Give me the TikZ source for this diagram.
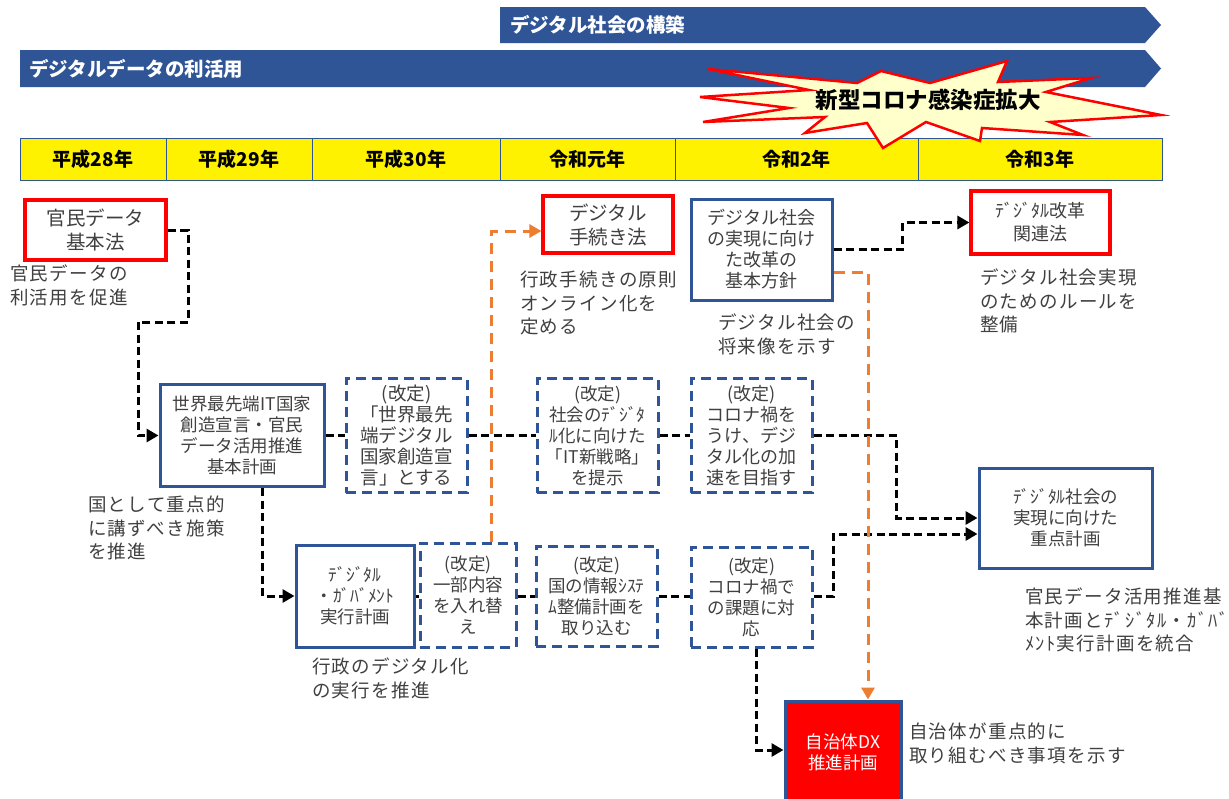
\documentclass[tikz,border=0pt]{standalone}
\usepackage{fontspec}
\setmainfont{Noto Sans CJK JP}
\usetikzlibrary{arrows.meta}
\definecolor{dblue}{HTML}{2F5597}
\definecolor{borange}{HTML}{ED7D31}
\definecolor{txtgray}{HTML}{404040}
\definecolor{starfill}{HTML}{FFFFCC}
\newcommand\bxfont{\fontsize{17.5}{21}\selectfont}
\newcommand\rbfont{\fontsize{19.5}{24}\selectfont}
\newcommand\ntfont{\fontsize{18.5}{23.5}\selectfont\addfontfeatures{LetterSpace=7}}
\tikzset{
  sbox/.style={draw=dblue, line width=3pt, fill=white, text=txtgray, align=center, font=\bxfont, inner sep=0pt},
  rbox/.style={draw=red, line width=3.2pt, fill=white, text=txtgray, align=center, font=\rbfont, inner sep=0pt},
  dbox/.style={draw=dblue, line width=3pt, dash pattern=on 10pt off 6pt, fill=white, text=txtgray, align=center, font=\bxfont, inner sep=0pt},
  conn/.style={draw=black, line width=3pt, dash pattern=on 8pt off 4.5pt},
  oconn/.style={draw=borange, line width=3pt, dash pattern=on 11pt off 7pt},
  tip/.style={-{Triangle[length=12pt,width=13pt]}},
  note/.style={text=txtgray, align=left, anchor=north west, inner sep=0pt, font=\ntfont},
  ycell/.style={draw=dblue, line width=1pt, fill=yellow, text=black, font=\fontsize{19}{22}\selectfont\bfseries, inner sep=0pt, minimum height=42pt},
  bannertext/.style={text=white, anchor=west, inner sep=0pt, font=\fontsize{19.5}{22}\selectfont\bfseries},
}
\begin{document}
\begin{tikzpicture}[x=1pt,y=-1pt]
\useasboundingbox (0,0) rectangle (1229,798);
\fill[white] (0,0) rectangle (1229,798);

% banners
\fill[dblue] (500,7) -- (1145,7) -- (1161,25) -- (1145,43) -- (500,43) -- cycle;
\node[bannertext] (ban1) at (510,25) {デジタル社会の構築};
\fill[dblue] (20,50) -- (1145,50) -- (1161,68.5) -- (1145,87) -- (20,87) -- cycle;
\node[bannertext] (ban2) at (29,68.5) {デジタルデータの利活用};

% year bar
\node[ycell, minimum width=146pt] (y1) at (93,159) {平成28年};
\node[ycell, minimum width=146pt] (y2) at (239,159) {平成29年};
\node[ycell, minimum width=188pt] (y3) at (406,159) {平成30年};
\node[ycell, minimum width=175pt] (y4) at (587.5,159) {令和元年};
\node[ycell, minimum width=243pt] (y5) at (796.5,159) {令和2年};
\node[ycell, minimum width=244pt] (y6) at (1040,159) {令和3年};

% starburst
\draw[draw=red, line width=2.5pt, fill=starfill, line join=miter]
  (708,69) -- (857,83) -- (881,71) -- (930,83) -- (1007,61) -- (998,82) -- (1091,78) -- (1046,92)
  -- (1161,115) -- (1050,122) -- (1083,135) -- (982,128) -- (980,141) -- (926,122) -- (883,148)
  -- (867,123) -- (805,133) -- (825,117) -- (703,122) -- (789,108) -- (700,97) -- (809,90) -- cycle;
\node[text=black, inner sep=0pt, font=\fontsize{22.5}{25}\selectfont\bfseries] (star) at (928,100) {新型コロナ感染症拡大};

% top nodes
\node[rbox, minimum width=141pt, minimum height=60pt] (kanmin) at (95.5,230) {官民データ\\基本法};
\node[rbox, minimum width=130pt, minimum height=57pt] (tetsu) at (608,224.5) {デジタル\\手続き法};
\node[sbox, font=\fontsize{18}{21}\selectfont, minimum width=141pt, minimum height=101pt] (houshin) at (761.5,249.5) {デジタル社会\\の実現に向け\\た改革の\\基本方針};
\node[rbox, font=\fontsize{18}{23}\selectfont, minimum width=139pt, minimum height=63pt] (kanren) at (1040.5,222.5) {ﾃﾞｼﾞﾀﾙ改革\\関連法};

% row 1
\node[sbox, minimum width=164pt, minimum height=102pt] (sekai) at (242,435.5) {世界最先端IT国家\\創造宣言・官民\\データ活用推進\\基本計画};
\node[dbox, font=\fontsize{18.5}{21}\selectfont, minimum width=121pt, minimum height=114pt] (kt1) at (406.5,435.5) {(改定)\\「世界最先\\端デジタル\\国家創造宣\\言」とする};
\node[dbox, minimum width=121pt, minimum height=114pt] (kt2) at (597.5,435.5) {(改定)\\社会のﾃﾞｼﾞﾀ\\ﾙ化に向けた\\「IT新戦略」\\を提示};
\node[dbox, font=\fontsize{18}{21}\selectfont, minimum width=121pt, minimum height=114pt] (kt3) at (751.5,435.5) {(改定)\\コロナ禍を\\うけ、デジ\\タル化の加\\速を目指す};
\node[sbox, minimum width=173pt, minimum height=100pt] (juten) at (1065.5,518) {ﾃﾞｼﾞﾀﾙ社会の\\実現に向けた\\重点計画};

% row 2
\node[sbox, minimum width=118pt, minimum height=102pt] (gov) at (355,596) {ﾃﾞｼﾞﾀﾙ\\・ｶﾞﾊﾞﾒﾝﾄ\\実行計画};
\node[dbox, minimum width=96pt, minimum height=104pt] (kt4) at (468,595) {(改定)\\一部内容\\を入れ替\\え};
\node[dbox, minimum width=121pt, minimum height=100pt] (kt5) at (596.5,596) {(改定)\\国の情報ｼｽﾃ\\ﾑ整備計画を\\取り込む};
\node[dbox, minimum width=121pt, minimum height=100pt] (kt6) at (751.5,597) {(改定)\\コロナ禍で\\の課題に対\\応};
\node[draw=dblue, line width=3pt, fill=red, text=white, align=center, font=\fontsize{17.5}{21}\selectfont, inner sep=0pt, minimum width=116pt, minimum height=102pt] (dx) at (843,752) {自治体DX\\推進計画};

% notes
\node[note] (n1) at (10,265) {官民データの\\利活用を促進};
\node[note] (n2) at (88,496) {国として重点的\\に講ずべき施策\\を推進};
\node[note] (n3) at (520,271) {行政手続きの原則\\オンライン化を\\定める};
\node[note] (n4) at (718,314) {デジタル社会の\\将来像を示す};
\node[note] (n5) at (980,269) {デジタル社会実現\\のためのルールを\\整備};
\node[note] (n6) at (312,658) {行政のデジタル化\\の実行を推進};
\node[note] (n7) at (1025,588) {官民データ活用推進基\\本計画とﾃﾞｼﾞﾀﾙ・ｶﾞﾊﾞ\\ﾒﾝﾄ実行計画を統合};
\node[note] (n8) at (909,723) {自治体が重点的に\\取り組むべき事項を示す};

% connectors
\coordinate (b1) at (188,322);
\coordinate (b2) at (138,322);
\draw[conn, tip] (kanmin.east) -| (b1) -- (b2) |- (sekai.west);
\draw[conn, tip] ([xshift=20pt]sekai.south) |- (gov.west);
\draw[conn] (sekai.east) -- (kt1.west);
\draw[conn] (kt1.east) -- (kt2.west);
\draw[conn] (kt2.east) -- (kt3.west);
\draw[conn] (gov.east) -- (kt4.west |- gov.east);
\draw[conn] (kt4.east |- kt5.west) -- (kt5.west);
\draw[conn] (kt5.east) -- (kt6.west |- kt5.east);
\draw[conn, tip] (houshin.east) -- ++(69,0) |- (kanren.west);
\draw[conn, tip] (kt3.east) -- ++(83,0) |- (juten.west);
\draw[conn, tip] (kt6.east |- kt5.east) -- ++(20,0) |- ([yshift=-16pt]juten.west);
\draw[conn, tip] ([xshift=4.5pt]kt6.south) |- ([yshift=2pt]dx.west);
\draw[oconn, tip] ([xshift=23pt]kt4.north) |- ([yshift=-6.5pt]tetsu.west);
\draw[oconn, tip] ([yshift=-22.5pt]houshin.east) -| ([xshift=25pt]dx.north);
\end{tikzpicture}
\end{document}
